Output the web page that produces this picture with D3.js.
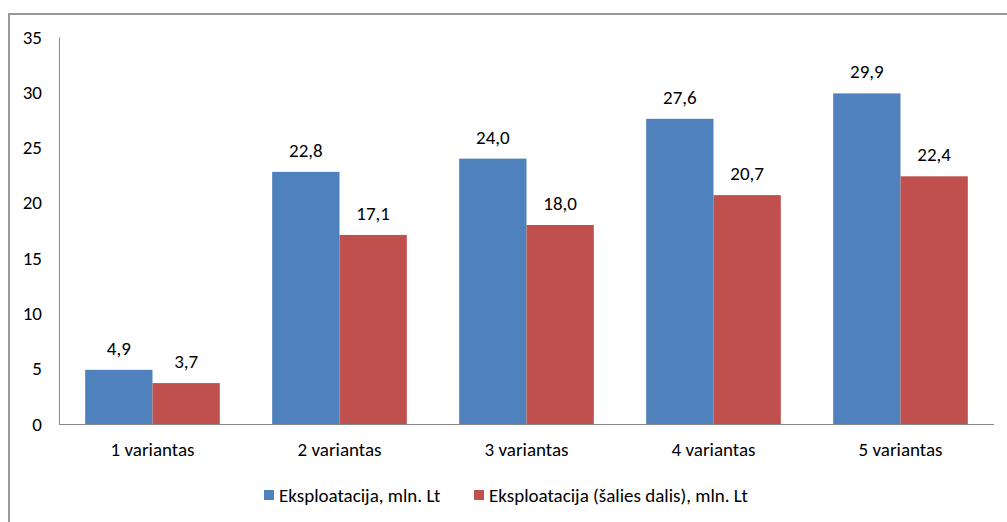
<!DOCTYPE html>
<html><head><meta charset="utf-8">
<script src="https://cdn.jsdelivr.net/npm/d3@7"></script>
<style>body{margin:0;background:#fff}svg{display:block}text{font-family:Carlito,Calibri,Lato,sans-serif;fill:#000}</style>
</head><body>
<script>
const categories = ["1 variantas","2 variantas","3 variantas","4 variantas","5 variantas"];
const seriesNames = ["Eksploatacija, mln. Lt","Eksploatacija (šalies dalis), mln. Lt"];
const seriesA = [4.9,22.8,24.0,27.6,29.9];
const seriesB = [3.7,17.1,18.0,20.7,22.4];
const yTicks = [0,5,10,15,20,25,30,35];
const colors = ["#4F81BD","#C0504D"];

const W=1007,H=522,FS="19px",FF="Carlito,Calibri,Lato,sans-serif";
const svg=d3.select("body").append("svg").attr("width",W).attr("height",H);
svg.append("rect").attr("x",9).attr("y",14).attr("width",1010).attr("height",520)
  .attr("fill","#fff").attr("stroke","#999").attr("stroke-width",2);

const pL=59,pR=994,pT=37,pB=424;
const x=d3.scaleBand().domain(categories).range([pL,pR]).paddingInner(0.28).paddingOuter(0.14);
const x1=d3.scaleBand().domain([0,1]).range([0,x.bandwidth()]);
const y=d3.scaleLinear().domain([0,35]).range([pB,pT]);

const fmt=d3.format(".1f");
const data=categories.map((c,i)=>({c,v:[seriesA[i],seriesB[i]]}));

const g=svg.append("g");
data.forEach(d=>{
  d.v.forEach((v,j)=>{
    const bx=x(d.c)+x1(j);
    g.append("rect").attr("x",bx).attr("y",y(v)).attr("width",x1.bandwidth()).attr("height",y(0)-y(v)).attr("fill",colors[j]);
    g.append("text").attr("x",bx+x1.bandwidth()/2).attr("y",y(v)-15).attr("text-anchor","middle")
      .style("font-size",FS).text(fmt(v).replace(".",","));
  });
});

const ya=svg.append("g").attr("transform",`translate(${pL},0)`).call(d3.axisLeft(y).tickValues(yTicks).tickSize(0).tickPadding(17));
ya.select(".domain").attr("stroke","#888");
ya.selectAll("text").style("font-size",FS).style("font-family",FF).attr("fill","#000");
const xa=svg.append("g").attr("transform",`translate(0,${pB})`).call(d3.axisBottom(x).tickSize(0).tickPadding(19));
xa.select(".domain").attr("stroke","#888").attr("d",`M${pL},0.5H${pR}`);
xa.selectAll("text").style("font-size",FS).style("font-family",FF).attr("fill","#000");

const leg=[{x:264,t:seriesNames[0],c:colors[0]},{x:474,t:seriesNames[1],c:colors[1]}];
leg.forEach(l=>{
  svg.append("rect").attr("x",l.x).attr("y",490).attr("width",10).attr("height",10).attr("fill",l.c);
  svg.append("text").attr("x",l.x+15).attr("y",502).style("font-size",FS).text(l.t);
});
</script>
</body></html>
